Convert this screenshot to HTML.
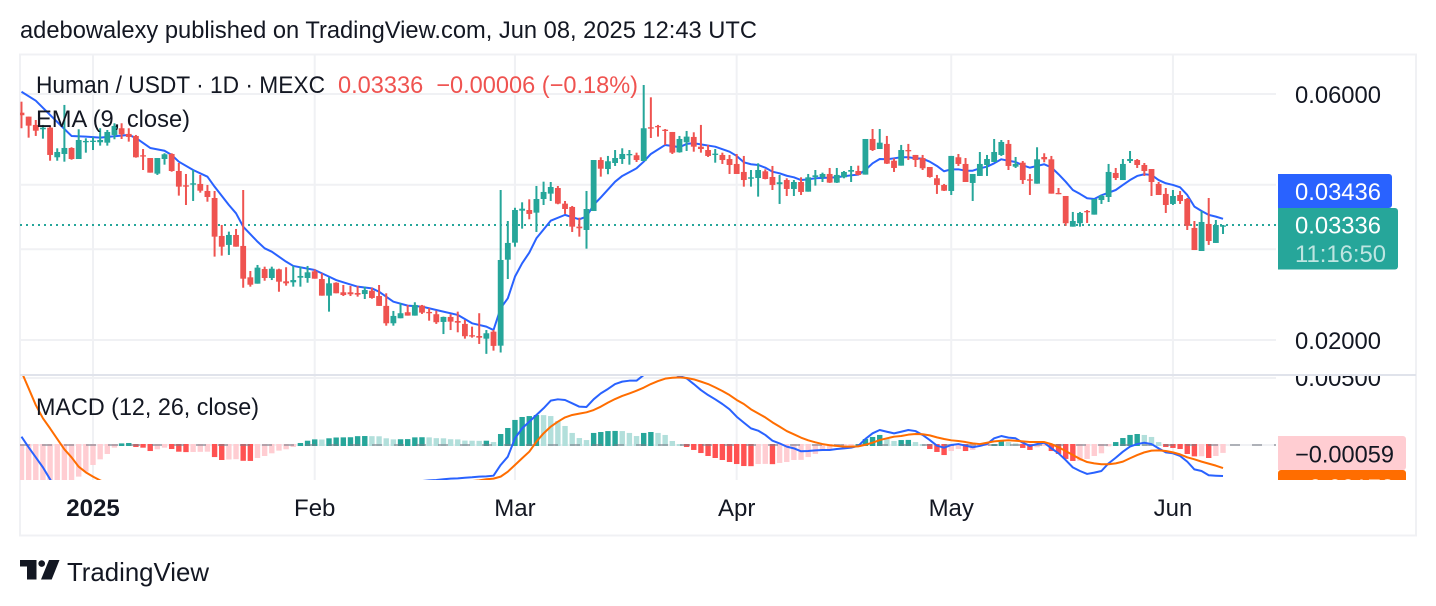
<!DOCTYPE html>
<html lang="en">
<head>
<meta charset="utf-8">
<title>Human / USDT chart</title>
<style>
html,body{margin:0;padding:0;background:#fff;}
svg{display:block;}
text{font-family:"Liberation Sans",Arial,sans-serif;font-size:24px;fill:#131722;white-space:pre;}
</style>
</head>
<body>
<svg id="chart" width="1436" height="606" viewBox="0 0 1436 606" xmlns="http://www.w3.org/2000/svg">
<defs>
<clipPath id="main-clip"><rect x="20" y="55" width="1256" height="320"/></clipPath>
<clipPath id="macd-clip"><rect x="20" y="376" width="1256" height="104"/></clipPath>
<clipPath id="axis-macd-clip"><rect x="1276" y="376" width="140" height="104"/></clipPath>
</defs>
<rect x="0" y="0" width="1436" height="606" fill="#ffffff"/>
<text x="20" y="38" textLength="737" lengthAdjust="spacingAndGlyphs">adebowalexy published on TradingView.com, Jun 08, 2025 12:43 UTC</text>
<rect x="20" y="54.5" width="1396" height="481" fill="none" stroke="#f0f1f4" stroke-width="2"/>
<g id="grid"></g>
<line x1="20" x2="1276" y1="225" y2="225" stroke="#26a69a" stroke-width="2" stroke-dasharray="2 4"/>
<g clip-path="url(#main-clip)">
<path id="ema-line" fill="none" stroke="#2962ff" stroke-width="2" stroke-linejoin="round"/>
<g id="candles"></g>
</g>
<line x1="20" x2="1416" y1="375" y2="375" stroke="#e0e3eb" stroke-width="2"/>
<g clip-path="url(#macd-clip)">
<g id="histogram"></g>
<line x1="20" x2="1276" y1="445" y2="445" stroke="#787b86" stroke-opacity="0.55" stroke-width="2" stroke-dasharray="10 12"/>
<path id="macd-line" fill="none" stroke="#2962ff" stroke-width="2" stroke-linejoin="round"/>
<path id="signal-line" fill="none" stroke="#ff6d00" stroke-width="2" stroke-linejoin="round"/>
</g>
<g id="time-axis"></g>
<g id="price-axis"></g>
<g clip-path="url(#axis-macd-clip)">
<text x="1295" y="386" textLength="86" lengthAdjust="spacingAndGlyphs">0.00500</text>
<path d="M1278 436H1403a3 3 0 0 1 3 3V467a3 3 0 0 1-3 3H1278Z" fill="#ffcdd2"/>
<text x="1295" y="462.5" textLength="99" lengthAdjust="spacingAndGlyphs">−0.00059</text>
<rect x="1278" y="470" width="128" height="24" rx="3" fill="#ff6d00"/>
<text x="1295" y="496" textLength="99" lengthAdjust="spacingAndGlyphs" style="fill:#fff">−0.00172</text>
</g>
<path d="M1278 174H1389a3 3 0 0 1 3 3V205a3 3 0 0 1-3 3H1278Z" fill="#2962ff"/>
<text x="1295" y="200" textLength="86" lengthAdjust="spacingAndGlyphs" style="fill:#fff">0.03436</text>
<path d="M1278 208H1395a3 3 0 0 1 3 3V266.5a3 3 0 0 1-3 3H1278Z" fill="#26a69a"/>
<text x="1295" y="233.5" textLength="86" lengthAdjust="spacingAndGlyphs" style="fill:#fff">0.03336</text>
<text x="1295" y="262" textLength="91" lengthAdjust="spacingAndGlyphs" style="fill:#bee5e1">11:16:50</text>
<text x="36" y="93" textLength="289" lengthAdjust="spacingAndGlyphs">Human / USDT · 1D · MEXC</text>
<text x="338" y="93" textLength="300" lengthAdjust="spacingAndGlyphs" style="fill:#ef5350">0.03336  −0.00006 (−0.18%)</text>
<text x="36" y="127" textLength="154" lengthAdjust="spacingAndGlyphs">EMA (9, close)</text>
<text x="36" y="415" textLength="223" lengthAdjust="spacingAndGlyphs">MACD (12, 26, close)</text>
<g>
<path d="M20 560H36.5V579.5H27V566.5H20Z" fill="#131722"/>
<circle cx="41.7" cy="563.6" r="3.3" fill="#131722"/>
<path d="M49 560H59.5L51.7 579.5H41Z" fill="#131722"/>
<text x="67" y="581" textLength="142" lengthAdjust="spacingAndGlyphs" style="font-size:26px">TradingView</text>
</g>
</svg>
<script>
// All price and MACD values are in units of 0.00001 USDT.
// Each candle array starts at day -10 (10 days before 1 Jan 2025), one entry per day.
const firstDay = -10;
const opens = [
5520,5423,5226,5125,5163,4523,4590,4715,4488,4837,
4843,4837,4828,4997,5149,5020,4975,4564,4508,4204,
4488,4590,4254,3991,4002,4015,3891,3771,3183,3058,
3197,3044,2646,2572,2746,2638,2742,2599,2588,2642,
2638,2718,2626,2438,2583,2475,2475,2467,2456,2492,
2434,2329,2155,2204,2264,2230,2332,2267,2244,2168,
2217,2177,2149,2043,2036,2012,2076,1950,2863,3089,
3563,3574,3532,3754,3845,3943,3677,3623,3318,3269,
3558,4468,4292,4409,4488,4564,4564,4448,5172,5202,
5116,5064,4625,4837,4953,4742,4672,4570,4570,4488,
4390,4236,4110,4123,4249,4142,4010,4086,3926,4050,
3879,4142,4136,4198,4039,4136,4241,4254,4186,4908,
4693,4801,4454,4357,4672,4570,4508,4331,4118,3997,
3891,4523,4390,4033,4161,4370,4429,4570,4801,4337,
4415,4099,4020,4529,4482,3857,3805,3318,3369,3558,
3501,3737,3788,4217,4086,4448,4468,4370,4292,4015,
3840,3672,3822,3754,3299,2976,3358,3085,3330];
const closes = [
5457,5209,5093,5163,4570,4631,4715,4488,4886,4865,
4871,4886,5064,5202,5012,4953,4523,4544,4223,4508,
4584,4254,3967,3967,4027,3896,3788,3173,3034,3197,
3034,2630,2560,2763,2638,2750,2595,2576,2614,2662,
2706,2630,2438,2576,2464,2445,2453,2449,2500,2413,
2329,2155,2227,2254,2230,2339,2260,2254,2165,2217,
2171,2161,2034,2034,2021,2061,1948,2859,3085,3574,
3595,3512,3754,3874,3961,3677,3590,3318,3294,3590,
4468,4298,4443,4508,4590,4590,4468,5149,5140,5172,
5093,4617,4908,4960,4742,4693,4550,4597,4468,4370,
4198,4086,4136,4273,4105,3997,4045,3926,4050,3874,
4136,4173,4198,4039,4180,4236,4273,4180,4908,4672,
4828,4396,4312,4672,4645,4468,4306,4142,3997,3896,
4550,4390,4050,4198,4390,4488,4631,4843,4351,4390,
4086,4074,4482,4482,3845,3835,3369,3403,3527,3543,
3754,3805,4236,4123,4390,4488,4370,4254,4050,3822,
3655,3805,3721,3330,2989,3388,3112,3343,3336];
const highs = [
5798,5423,5342,5226,5202,4708,5714,4730,5125,4924,
4946,5149,5109,5265,5265,5149,4997,4693,4508,4508,
4605,4605,4409,4198,4273,4180,3997,3891,3343,3245,
3284,3908,2722,2796,2775,2775,2750,2768,2784,2775,
2784,2742,2694,2646,2588,2557,2546,2546,2538,2526,
2557,2464,2277,2357,2339,2367,2339,2305,2280,2220,
2244,2270,2187,2123,2254,2091,2091,3908,3403,3610,
3699,3749,3979,4056,4050,3979,3721,3639,3454,3891,
4468,4523,4550,4672,4708,4672,4617,6245,5912,5226,
5132,5064,4975,5087,5057,5226,4779,4693,4617,4570,
4590,4550,4273,4403,4286,4351,4180,4118,4086,4136,
4198,4273,4223,4312,4312,4254,4351,4357,4908,5132,
5132,4975,4502,4779,4801,4570,4570,4331,4180,4015,
4550,4590,4508,4198,4631,4570,4908,4886,4886,4529,
4448,4198,4730,4605,4550,3943,3805,3543,3543,3574,
3754,3822,4390,4312,4488,4652,4488,4409,4292,4050,
3943,3908,3891,3771,3403,3558,3771,3418,3343];
const lows = [
5149,4937,4975,4915,4454,4454,4435,4474,4488,4617,
4672,4764,4764,4902,4908,4850,4515,4273,4223,4180,
4376,4241,3811,3655,3721,3862,3709,2902,2915,2924,
3034,2526,2538,2572,2606,2614,2481,2549,2538,2538,
2583,2630,2438,2270,2464,2434,2434,2427,2402,2405,
2329,2132,2132,2204,2230,2230,2247,2180,2149,2054,
2091,2070,2012,2021,1965,1880,1907,1891,2626,3034,
3288,3429,3240,3655,3721,3667,3512,3240,3173,3007,
3558,4148,4193,4351,4390,4376,4429,4448,4930,4960,
4779,4590,4617,4652,4637,4617,4529,4415,4390,4198,
4198,3967,3967,3794,4099,3908,3672,3805,3805,3822,
3879,3985,4050,4033,4033,4118,4050,4173,4186,4652,
4693,4390,4236,4357,4468,4331,4273,4130,3840,3891,
3822,4351,4050,3721,4161,4161,4429,4550,4273,4312,
4015,3822,4020,4423,3845,3835,3330,3318,3318,3373,
3501,3672,3704,4086,4086,4409,4312,4161,3805,3822,
3527,3655,3672,3269,2989,2976,3058,3085,3211];
const emaDays = [
-10,-8,-6,-4,-3,-1,1,3,5,6,8,10,11,12,14,16,17,19,20,21,23,24,25,27,28,31,33,34,
35,37,39,40,42,44,46,48,51,53,55,56,57,58,59,60,61,62,64,66,67,68,69,70,71,73,74,76,77,78,80,81,82,
83,84,87,89,90,91,92,93,94,95,96,97,98,99,100,101,103,104,106,107,108,109,110,111,112,113,114,115,116,117,118,119,120,121,122,123,124,125,126,127,128,129,
130,131,132,133,134,135,136,137,138,139,140,141,142,143,144,145,146,147,148,149,150,151,152,153,154,155,156,157,158];
const emaValues = [
6061,5824,5464,5132,4975,4960,4937,4968,4997,4930,4715,4657,4570,4435,4273,4148,3967,3655,3522,3318,3103,3012,2967,2838,2784,2734,2654,2614,
2588,2538,2519,2481,2373,2332,2322,2287,2237,2155,2123,2091,2305,2409,2654,2817,2954,3150,3407,3497,3461,3429,3470,3655,3781,4056,4161,4306,4435,4590,4779,4757,4730,
4801,4816,4742,4637,4550,4423,4384,4370,4318,4241,4210,4165,4136,4086,4099,4118,4130,4136,4173,4186,4273,4403,4488,4482,4502,4523,4523,4502,4495,4435,4351,4249,4286,4286,4260,4260,4306,4337,4403,4482,4454,4429,
4364,4318,4351,4384,4325,4193,4056,3908,3840,3766,3754,3817,3862,3908,3997,4086,4161,4193,4180,4086,4027,3997,3956,3822,3628,3558,3497,3470,3436];
const histValues = [
-320,-318,-316,-314,-310,-300,-290,-270,-236,-199,
-149,-107,-67,-20,12,15,-15,-20,-45,-32,
-20,-30,-50,-53,-52,-51,-50,-90,-112,-108,
-106,-118,-119,-97,-82,-62,-42,-32,-15,15,
32,42,41,50,56,57,58,66,67,66,
65,50,42,43,44,57,58,57,51,50,
43,42,33,32,31,32,22,82,127,187,
209,216,224,223,216,179,142,90,52,37,
90,97,104,105,104,90,67,90,97,90,
75,30,7,-15,-37,-60,-82,-97,-112,-127,
-142,-157,-158,-142,-141,-143,-134,-127,-112,-111,
-90,-67,-45,-30,-15,-14,-13,7,45,60,
75,45,30,37,38,22,7,-30,-52,-75,
-45,-30,-45,-37,-12,-7,7,32,22,12,
-22,-37,-17,-7,-45,-67,-104,-119,-118,-104,
-82,-62,-10,22,52,75,82,75,60,22,
-15,-22,-30,-67,-85,-84,-97,-82,-59];
const macdValues = [
62,-17,-92,-167,-256,-348,-398,-423,-423,-398,
-381,-371,-348,-323,-311,-311,-323,-336,-356,-366,
-373,-385,-403,-418,-430,-440,-453,-485,-515,-530,
-542,-572,-584,-577,-565,-552,-540,-527,-510,-485,
-465,-448,-430,-415,-398,-381,-366,-348,-331,-316,
-298,-298,-298,-291,-281,-274,-269,-264,-261,-256,
-251,-249,-244,-241,-236,-234,-229,-149,-87,50,
124,174,224,274,331,341,336,311,286,284,
341,385,418,455,473,480,480,522,552,567,
570,532,515,497,455,410,373,341,306,266,
211,167,124,107,75,32,12,-12,-25,-47,
-45,-40,-37,-37,-30,-25,-20,-7,45,87,
112,99,87,99,112,104,75,37,-5,-20,
0,7,-5,-17,-7,7,50,67,55,50,
17,-7,7,17,-25,-62,-112,-167,-194,-216,
-206,-194,-137,-95,-50,-12,7,17,7,-25,
-55,-62,-82,-124,-182,-194,-226,-229,-231];
const signalValues = [
547,423,298,199,124,45,-32,-92,-162,-204,
-236,-264,-286,-303,-316,-318,-323,-326,-331,-341,
-348,-356,-366,-378,-385,-395,-405,-423,-440,-455,
-470,-485,-497,-505,-510,-512,-512,-510,-507,-505,
-495,-482,-468,-450,-435,-418,-403,-385,-371,-356,
-341,-336,-328,-321,-313,-308,-303,-298,-293,-288,
-284,-279,-274,-269,-264,-256,-251,-236,-199,-149,
-99,-50,25,87,137,174,206,224,234,244,
261,286,316,343,366,385,405,428,455,477,
495,502,505,500,490,473,455,430,403,373,
336,306,266,236,206,169,137,104,80,55,
35,20,7,-2,-7,-12,-12,-10,2,17,
37,50,62,67,77,82,80,72,57,45,
35,30,22,12,7,17,27,32,35,32,
27,22,22,22,7,-17,-45,-75,-104,-127,
-137,-144,-144,-137,-124,-99,-75,-55,-42,-40,
-45,-55,-70,-92,-107,-124,-139,-154,-172];
const monthLabels = ['2025','Feb','Mar','Apr','May','Jun'];
const monthDays = [0,31,59,90,120,151];
const priceTicks = [6000,4000,3000,2000];
const macdTicks = [500,0];

const NS = 'http://www.w3.org/2000/svg';
const dayX = d => 93 + 7.152 * d;
const priceY = p => 94 + Math.log(6000 / p) / Math.log(3) * 246;
const macdY = v => 445 - v * 0.134;

function make(tag, attrs, parent) {
  const el = document.createElementNS(NS, tag);
  for (const k in attrs) el.setAttribute(k, attrs[k]);
  parent.appendChild(el);
  return el;
}
function linePath(days, vals, yFn) {
  return days.map((d, i) => (i ? 'L' : 'M') + dayX(d).toFixed(2) + ' ' + yFn(vals[i]).toFixed(2)).join('');
}

const gridG = document.getElementById('grid');
priceTicks.forEach(t => {
  const g = make('line', {x1: 20, x2: 1276, y1: priceY(t), y2: priceY(t), stroke: '#f0f1f4', 'stroke-width': 2}, gridG);
  
  
});
macdTicks.forEach(t => {
  const g = make('line', {x1: 20, x2: 1276, y1: macdY(t), y2: macdY(t), stroke: '#f0f1f4', 'stroke-width': 2}, gridG);
  
  
});
monthDays.forEach(d => {
  const g = make('line', {x1: dayX(d), x2: dayX(d), y1: 55, y2: 480, stroke: '#f0f1f4', 'stroke-width': 2}, gridG);
  
  
});

const emaPath = document.getElementById('ema-line');
emaPath.setAttribute('d', linePath(emaDays, emaValues, priceY));

const candleG = document.getElementById('candles');
opens.forEach((o, i) => {
  const c = closes[i], x = dayX(firstDay + i), up = c >= o;
  const col = up ? '#26a69a' : '#ef5350';
  const wick = make('line', {x1: x, x2: x, y1: priceY(highs[i]), y2: priceY(lows[i]), stroke: col, 'stroke-width': 2}, candleG);
  
  
  const top = priceY(Math.max(o, c));
  const h = Math.max(1.3, priceY(Math.min(o, c)) - top);
  const body = make('rect', {x: x - 2.9, y: top, width: 5.8, height: h, fill: col}, candleG);
  
  
});

const histG = document.getElementById('histogram');
const y0 = macdY(0);
histValues.forEach((v, i) => {
  const prev = i ? histValues[i - 1] : v;
  let col;
  if (v >= 0) col = v > prev ? '#26a69a' : '#b2dfdb';
  else col = v < prev ? '#ff5252' : '#ffcdd2';
  const yv = macdY(v), x = dayX(firstDay + i);
  const top = v >= 0 ? yv : y0 - 1;
  const bot = v >= 0 ? y0 + 1 : yv;
  const bar = make('rect', {x: x - 2.7, y: top, width: 5.4, height: bot - top, fill: col}, histG);
  
  
});

const allDays = macdValues.map((_, i) => firstDay + i);
document.getElementById('macd-line').setAttribute('d', linePath(allDays, macdValues, macdY));
document.getElementById('signal-line').setAttribute('d', linePath(allDays, signalValues, macdY));

const timeG = document.getElementById('time-axis');
monthLabels.forEach((label, i) => {
  const t = make('text', {x: dayX(monthDays[i]), y: 516, 'text-anchor': 'middle'}, timeG);
  t.textContent = label;
  if (i === 0) t.style.fontWeight = 'bold';
  
  
});

const priceG = document.getElementById('price-axis');
priceTicks.forEach(p => {
  const t = make('text', {x: 1295, y: priceY(p) + 8.8, textLength: 86, lengthAdjust: 'spacingAndGlyphs'}, priceG);
  t.textContent = (p / 100000).toFixed(5);
  
  
});
</script>
</body>
</html>
